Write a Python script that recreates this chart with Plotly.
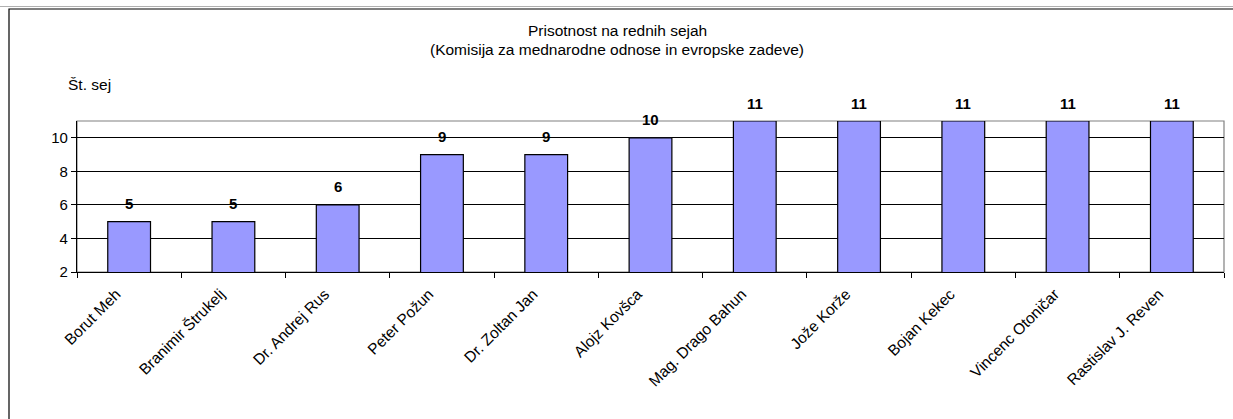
import plotly.graph_objects as go

names = ["Borut Meh", "Branimir Štrukelj", "Dr. Andrej Rus", "Peter Požun",
         "Dr. Zoltan Jan", "Alojz Kovšca", "Mag. Drago Bahun", "Jože Korže",
         "Bojan Kekec", "Vincenc Otoničar", "Rastislav J. Reven"]
sessions = [5, 5, 6, 9, 9, 10, 11, 11, 11, 11, 11]
y_ticks = [2, 4, 6, 8, 10]

FONT = "Liberation Sans, Arial, sans-serif"

W, H = 1233, 419
L, R, T, B = 77, 1224, 121, 272
pw, ph = R - L, B - T

fig = go.Figure()
fig.add_trace(go.Bar(
    x=names, y=sessions, width=0.41,
    marker=dict(color="#9999FF", line=dict(color="#000000", width=1.2)),
    hoverinfo="x+y",
))

for n, v in zip(names, sessions):
    fig.add_annotation(x=n, y=v, text=f"<b>{v}</b>", showarrow=False,
                       yanchor="middle", yshift=18,
                       font=dict(family=FONT, size=15, color="#000"))

def px(x):
    return (x - L) / pw

def py(y):
    return (B - y) / ph

# outer chart frame
fig.add_shape(type="rect", xref="paper", yref="paper",
              x0=px(9), x1=px(1245), y0=py(430), y1=py(9),
              line=dict(color="#000", width=1.2), layer="below")
fig.add_shape(type="line", xref="paper", yref="paper",
              x0=px(0), x1=px(1233), y0=py(6.5), y1=py(6.5),
              line=dict(color="#b0b0b0", width=1), layer="below")
# plot-area border
fig.add_shape(type="rect", xref="paper", yref="paper",
              x0=0, x1=1, y0=0, y1=1,
              line=dict(color="#808080", width=1.2), layer="below")

fig.add_annotation(xref="paper", yref="paper", x=px(617), y=py(30),
                   xanchor="center", yanchor="middle",
                   text="Prisotnost na rednih sejah", showarrow=False,
                   font=dict(family=FONT, size=15.5, color="#000"))
fig.add_annotation(xref="paper", yref="paper", x=px(617), y=py(49),
                   xanchor="center", yanchor="middle",
                   text="(Komisija za mednarodne odnose in evropske zadeve)",
                   showarrow=False, font=dict(family=FONT, size=15.5, color="#000"))
fig.add_annotation(xref="paper", yref="paper", x=px(66), y=py(85),
                   xanchor="left", yanchor="middle", text="Št. sej", showarrow=False,
                   font=dict(family=FONT, size=15.5, color="#000"))

fig.update_layout(
    width=W, height=H,
    margin=dict(l=L, r=W - R, t=T, b=H - B, pad=0, autoexpand=False),
    paper_bgcolor="white", plot_bgcolor="white",
    showlegend=False, bargap=0.59,
    font=dict(family=FONT, size=15, color="#000"),
    xaxis=dict(type="category", tickson="boundaries", ticks="outside",
               ticklen=5, tickcolor="#000", tickangle=-45,
               showline=True, linecolor="#000", linewidth=1.2,
               showgrid=False, tickfont=dict(family=FONT, size=15.5),
               ticklabelshift=-13, ticklabelstandoff=6, automargin=False),
    yaxis=dict(range=[2, 11], tickvals=y_ticks, ticks="outside", ticklen=5,
               tickcolor="#000", showline=True, linecolor="#000", linewidth=1.2,
               showgrid=True, gridcolor="#000", gridwidth=1,
               zeroline=False, tickfont=dict(family=FONT, size=15),
               automargin=False),
)

fig.write_html("out.html", config={"displayModeBar": False},
               post_script="document.body.style.margin='0';")
